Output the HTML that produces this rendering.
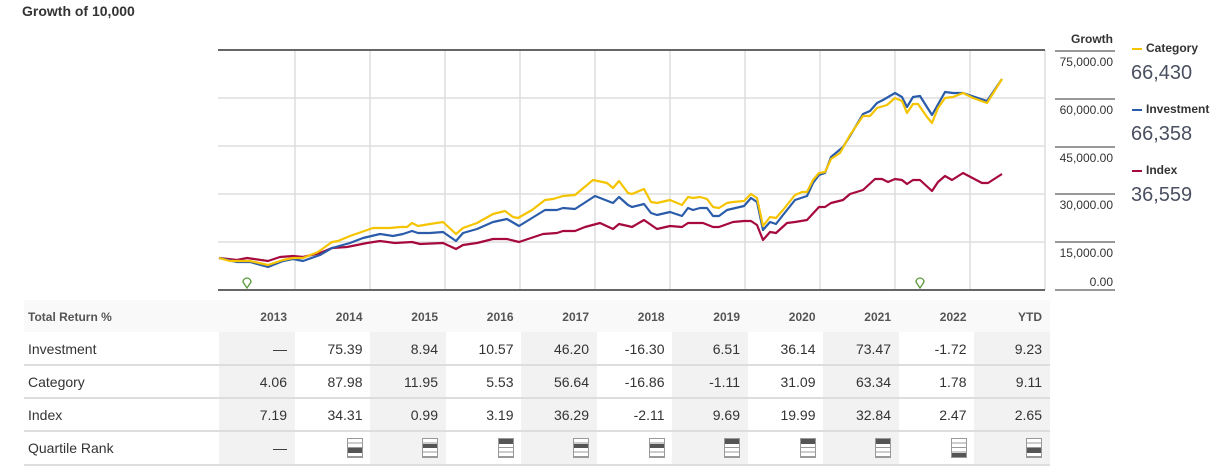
<!DOCTYPE html>
<html><head><meta charset="utf-8"><style>
body{margin:0;width:1219px;height:467px;background:#fff;position:relative;overflow:hidden;font-family:"Liberation Sans Narrow","Liberation Sans",sans-serif;color:#333}
.a{position:absolute;white-space:nowrap}
.t{font-weight:bold;font-size:14px;left:22px;top:3px;color:#333}
.yl{font-size:12px;color:#333;right:106px;text-align:right}
.lg{font-size:12px;font-weight:bold;left:1146px;color:#333}
.lm{position:absolute;left:1132px;width:10px;height:2px}
.lv{font-size:20px;left:1131px;color:#4a5060}
.cell{position:absolute;text-align:right;font-size:14px;width:68px}
.hd{font-weight:bold;font-size:12px;color:#555}
.q{position:absolute;width:16px;height:20px;border:1px solid #999;box-sizing:border-box;background:repeating-linear-gradient(#fff 0 3.5px,#999 3.5px 4.5px)}
.q i{position:absolute;left:0;right:0;height:4.5px;background:#555}
</style></head><body>
<div class="a t">Growth of 10,000</div>
<svg class="a" style="left:0;top:0" width="1219" height="300">
<g stroke="#ddd" stroke-width="1.5">
<line x1="218" y1="98" x2="1045" y2="98"/><line x1="218" y1="146" x2="1045" y2="146"/><line x1="218" y1="194" x2="1045" y2="194"/><line x1="218" y1="242" x2="1045" y2="242"/>
<line x1="295" y1="50" x2="295" y2="290"/><line x1="370" y1="50" x2="370" y2="290"/><line x1="445" y1="50" x2="445" y2="290"/><line x1="520" y1="50" x2="520" y2="290"/><line x1="595" y1="50" x2="595" y2="290"/><line x1="670" y1="50" x2="670" y2="290"/><line x1="745" y1="50" x2="745" y2="290"/><line x1="820" y1="50" x2="820" y2="290"/><line x1="895" y1="50" x2="895" y2="290"/><line x1="970" y1="50" x2="970" y2="290"/><line x1="1045" y1="50" x2="1045" y2="290"/>
</g>
<line x1="218" y1="50" x2="1045" y2="50" stroke="#666" stroke-width="2"/>
<line x1="218" y1="290" x2="1045" y2="290" stroke="#666" stroke-width="2"/>
<g stroke="#777" stroke-width="1.5"><line x1="1055" y1="51" x2="1115" y2="51"/><line x1="1055" y1="99" x2="1115" y2="99"/><line x1="1055" y1="147" x2="1115" y2="147"/><line x1="1055" y1="194" x2="1115" y2="194"/><line x1="1055" y1="242" x2="1115" y2="242"/><line x1="1055" y1="290" x2="1115" y2="290"/></g>
<g fill="none" stroke-width="2.2" stroke-linejoin="round">
<polyline stroke="#a6093d" points="219,258 237,260 247,258 268,261 280,257 293,256 303,257 320,253 332,248 347,247 367,243 380,241 395,243 412,242 420,244 443,243 456,249 463,245 477,243 493,239 507,239 519,242 543,234 557,233 563,231 575,231 585,227 600,223 613,229 619,224 628,226 632,227 644,220 657,229 670,226 682,227 688,223 703,223 713,227 719,227 733,222 744,221 751,221 757,225 763,240 770,232 776,233 787,223 795,222 807,220 819,207 825,207 831,203 843,200 850,194 863,190 875,179 882,179 888,182 895,179 902,180 907,184 913,180 920,180 932,191 938,182 945,176 952,180 963,173 982,183 988,183 1002,174"/>
<polyline stroke="#2a5caa" points="219,258 237,262 250,262 268,267 283,261 293,259 303,261 320,255 332,248 350,243 363,238 380,234 393,236 403,234 412,231 418,233 430,233 443,232 456,241 463,233 477,229 493,222 507,219 519,226 532,218 545,210 557,210 563,208 575,209 595,196 613,203 619,197 628,205 632,207 644,204 651,213 657,215 670,212 682,216 688,208 693,210 700,208 707,208 713,216 719,216 727,210 744,206 751,198 757,202 763,230 770,222 776,224 783,215 795,200 807,196 813,183 819,175 825,173 831,157 843,147 850,136 863,114 870,111 877,103 883,100 895,93 902,97 907,107 913,97 920,96 932,115 945,92 953,93 963,93 987,101 1002,79"/>
<polyline stroke="#f5c400" points="219,258 230,261 250,261 268,265 283,260 293,258 303,258 318,252 332,242 338,241 350,236 373,228 390,228 400,227 407,227 412,223 418,226 430,224 443,222 456,234 463,228 477,223 493,214 505,211 513,217 518,218 532,210 545,200 553,199 563,196 575,195 593,180 607,183 613,188 619,181 628,193 632,194 644,189 651,202 657,203 670,200 682,205 688,197 693,198 700,197 707,199 713,207 719,208 727,203 733,202 744,201 751,194 757,198 763,226 770,217 776,218 783,210 795,195 802,192 807,192 813,180 819,173 825,172 831,159 840,153 850,135 863,116 870,116 877,108 887,105 895,98 902,101 907,113 913,104 918,104 927,117 932,123 938,108 945,98 953,97 963,93 973,98 987,103 1002,79"/>
</g>
<g fill="none" stroke="#5a9a3a" stroke-width="1.3"><path d="M247,288 L243,282 A4,4 0 1 1 251,282 Z"/><path d="M920,288 L916,282 A4,4 0 1 1 924,282 Z"/></g>
</svg>
<div class="a" style="right:106px;top:32px;font-size:12px;font-weight:bold">Growth</div>
<div class="a yl" style="top:55px">75,000.00</div>
<div class="a yl" style="top:103px">60,000.00</div>
<div class="a yl" style="top:151px">45,000.00</div>
<div class="a yl" style="top:198px">30,000.00</div>
<div class="a yl" style="top:246px">15,000.00</div>
<div class="a yl" style="top:275px">0.00</div>
<div class="lm" style="top:48px;background:#f5c400"></div><div class="a lg" style="top:41px">Category</div><div class="a lv" style="top:62px">66,430</div>
<div class="lm" style="top:109px;background:#2a5caa"></div><div class="a lg" style="top:102px">Investment</div><div class="a lv" style="top:123px">66,358</div>
<div class="lm" style="top:170px;background:#a6093d"></div><div class="a lg" style="top:163px">Index</div><div class="a lv" style="top:184px">36,559</div>
<div class="a" style="left:24px;top:300px;width:1026px;height:32px;background:#f9f9f9"></div>
<div id="tb"></div>
<script>
var cols=["2013","2014","2015","2016","2017","2018","2019","2020","2021","2022","YTD"];
var rows=[["Investment","—","75.39","8.94","10.57","46.20","-16.30","6.51","36.14","73.47","-1.72","9.23"],
["Category","4.06","87.98","11.95","5.53","56.64","-16.86","-1.11","31.09","63.34","1.78","9.11"],
["Index","7.19","34.31","0.99","3.19","36.29","-2.11","9.69","19.99","32.84","2.47","2.65"]];
var q=[0,3,2,1,2,2,1,1,1,4,3];
var h="";
for(var i=0;i<11;i++){var l=219+i*75.5;
 if(i%2==0)h+='<div class="a" style="left:'+l+'px;top:332px;width:75.5px;height:134px;background:#f2f2f2"></div>';
 h+='<div class="cell hd" style="left:'+(l)+'px;top:310px">'+cols[i]+'</div>';
 for(var r=0;r<3;r++)h+='<div class="cell" style="left:'+l+'px;top:'+(341+r*33)+'px">'+rows[r][i+1]+'</div>';
 if(q[i]==0)h+='<div class="cell" style="left:'+l+'px;top:440px">—</div>';
 else h+='<div class="q" style="left:'+(l+52)+'px;top:438px"><i style="top:'+((q[i]-1)*4.5)+'px"></i></div>';
}
h+='<div class="a hd" style="left:28px;top:310px">Total Return %</div>';
var lab=["Investment","Category","Index","Quartile Rank"];
for(var r=0;r<4;r++){h+='<div class="a" style="left:28px;top:'+(341+r*33)+'px;font-size:14px">'+lab[r]+'</div>';
 h+='<div class="a" style="left:24px;top:'+(364+r*33+(r==3?1:0))+'px;width:1026px;height:1.5px;background:#ddd"></div>';}
document.getElementById("tb").innerHTML=h;
</script>
</body></html>
